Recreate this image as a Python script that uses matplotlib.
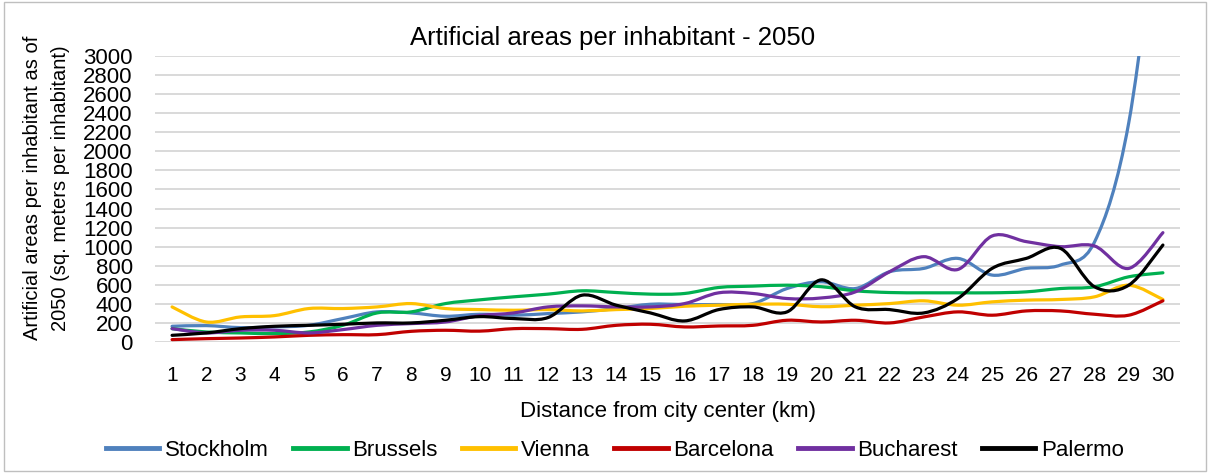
import numpy as np
import matplotlib
matplotlib.use("Agg")
import matplotlib.pyplot as plt
from matplotlib.path import Path
from matplotlib.patches import PathPatch, Rectangle
from matplotlib.lines import Line2D

plt.rcParams['font.family'] = ['Liberation Sans', 'DejaVu Sans']

km = list(range(1, 31))

stockholm = [165, 172, 151, 158, 175, 246, 316, 305, 270, 291,
             281, 298, 316, 351, 396, 393, 393, 403, 561, 632,
             561, 737, 772, 877, 702, 772, 807, 1050, 2300, 5000]
brussels = [140, 105, 95, 88, 105, 175, 305, 316, 403, 442,
            474, 502, 537, 519, 502, 509, 572, 586, 596, 580,
            537, 519, 516, 516, 516, 526, 561, 579, 684, 726]
vienna = [368, 210, 263, 277, 351, 351, 368, 403, 351, 340,
          333, 340, 326, 340, 351, 375, 386, 396, 396, 370,
          386, 403, 432, 386, 421, 439, 446, 474, 596, 446]
barcelona = [25, 35, 42, 53, 70, 77, 77, 112, 123, 114,
             140, 140, 133, 175, 186, 158, 168, 175, 228, 210,
             228, 200, 263, 316, 281, 326, 326, 291, 281, 432]
bucharest = [140, 95, 123, 123, 95, 130, 175, 193, 210, 277,
             305, 368, 379, 368, 368, 403, 516, 509, 456, 462,
             526, 737, 895, 761, 1112, 1053, 1000, 1007, 772, 1147]
palermo = [70, 95, 140, 165, 175, 186, 200, 200, 228, 266,
           246, 256, 491, 386, 305, 221, 340, 368, 316, 652,
           368, 340, 305, 456, 772, 877, 982, 579, 596, 1017]

series = [
    ('Stockholm', stockholm, '#4F81BD'),
    ('Brussels', brussels, '#00B050'),
    ('Vienna', vienna, '#FFC000'),
    ('Barcelona', barcelona, '#C00000'),
    ('Bucharest', bucharest, '#7030A0'),
    ('Palermo', palermo, '#000000'),
]


def smooth_path(xs, ys):
    # cubic bezier segments through every point (catmull-rom style control points)
    pts = np.column_stack([xs, ys]).astype(float)
    n = len(pts)
    verts = [pts[0]]
    codes = [Path.MOVETO]
    for i in range(n - 1):
        p0 = pts[max(i - 1, 0)]
        p1 = pts[i]
        p2 = pts[i + 1]
        p3 = pts[min(i + 2, n - 1)]
        c1 = p1 + (p2 - p0) / 6.0
        c2 = p2 - (p3 - p1) / 6.0
        verts += [c1, c2, p2]
        codes += [Path.CURVE4] * 3
    return Path(verts, codes)


W, H = 1210, 473
fig = plt.figure(figsize=(W / 100, H / 100), dpi=100)
ax = fig.add_axes([155 / W, 1 - 342 / H, 1025 / W, 286 / H])

for name, vals, color in series:
    patch = PathPatch(smooth_path(km, vals), fill=False, edgecolor=color,
                      linewidth=2.3, capstyle='round', joinstyle='round')
    ax.add_patch(patch)

ax.set_xlim(0.5, 30.5)
ax.set_ylim(0, 3000)
ax.set_yticks(range(0, 3001, 200))
ax.set_xticks(km)
ax.tick_params(axis='y', labelsize=16, length=0, pad=16)
ax.tick_params(axis='x', labelsize=15, length=0, pad=17)
ax.grid(axis='y', color='#D9D9D9', linewidth=1.4)
ax.set_axisbelow(True)
for sp in ax.spines.values():
    sp.set_visible(False)

fig.text(613 / W, 1 - 38 / H, 'Artificial areas per inhabitant - 2050',
         fontsize=18.5, ha='center', va='center')
ax.set_xlabel('Distance from city center (km)', fontsize=16, labelpad=12)
fig.text(47 / W, 1 - 188 / H,
         'Artificial areas per inhabitant as of\n2050 (sq. meters per inhabitant)',
         fontsize=14.5, rotation=90, ha='center', va='center',
         multialignment='center', linespacing=1.6)

handles = [Line2D([], [], color=c, linewidth=3.5) for _, _, c in series]
fig.legend(handles, [s[0] for s in series], loc='center', ncol=6,
           bbox_to_anchor=(615 / W, 1 - 450 / H), frameon=False,
           prop={'size': 16}, handlelength=2.4,
           handletextpad=0.25, columnspacing=1.1)

fig.patches.append(Rectangle((4 / W, 2 / H), 1202 / W, 469 / H,
                             transform=fig.transFigure, fill=False,
                             edgecolor='#BFBFBF', linewidth=1.0))

fig.savefig('out.png', dpi=100)
